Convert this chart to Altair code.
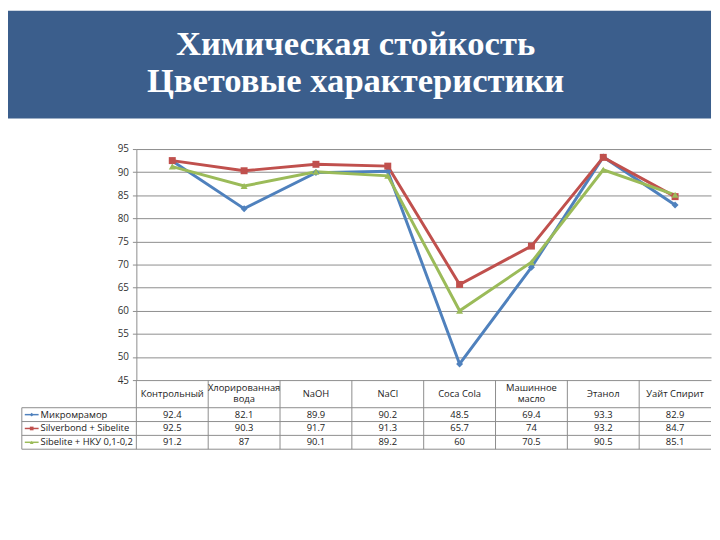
import altair as alt
import pandas as pd

title_lines = ["Химическая стойкость", "Цветовые характеристики"]
categories = ["Контрольный", "Хлорированная\nвода", "NaOH", "NaCl", "Coca Cola",
              "Машинное\nмасло", "Этанол", "Уайт Спирит"]
series = ["Микромрамор", "Silverbond + Sibelite", "Sibelite + НКУ 0,1-0,2"]
micro = [92.4, 82.1, 89.9, 90.2, 48.5, 69.4, 93.3, 82.9]
silver = [92.5, 90.3, 91.7, 91.3, 65.7, 74, 93.2, 84.7]
sibel = [91.2, 87, 90.1, 89.2, 60, 70.5, 90.5, 85.1]
y_ticks = [45, 50, 55, 60, 65, 70, 75, 80, 85, 90, 95]

colors = ["#4F81BD", "#C0504D", "#9BBB59"]
shapes = ["diamond", "square", "triangle-up"]
row_pos = [2.5, 3.5, 4.5]

recs = []
for s, vals, r in zip(series, [micro, silver, sibel], row_pos):
    for c, v in zip(categories, vals):
        recs.append(dict(series=s, cat=c, value=v, row=r, label=f"{v:g}"))
df = pd.DataFrame(recs)
n_lines = [c.count("\n") + 1 for c in categories]
hdr = pd.DataFrame({"cat": categories,
                    "row": [1 - 0.45 * (n - 1) for n in n_lines],
                    "y0": [0] * len(categories), "y1": [5] * len(categories)})
leg = pd.DataFrame({"series": series, "row": row_pos})
hlines = pd.DataFrame({"r": [2, 3, 4, 5]})
one = pd.DataFrame({"t": [title_lines[0]], "t2": [title_lines[1]], "a": [2], "b": [5]})

W, H = 582, 304
xscale = alt.Scale(type="band", domain=categories, paddingInner=0, paddingOuter=0)
yscale = alt.Scale(domain=[45, 95], range=[234, 0])
tscale = alt.Scale(domain=[0, 5], range=[234, 304])
color_enc = alt.Color("series:N", scale=alt.Scale(domain=series, range=colors), legend=None)
shape_enc = alt.Shape("series:N", scale=alt.Scale(domain=series, range=shapes), legend=None)
xc = alt.X("cat:N", scale=xscale, sort=categories, bandPosition=0.5, axis=None)
xb = alt.X("cat:N", scale=xscale, sort=categories, bandPosition=0, axis=None)
FONT = "Open Sans"
GRID = "#8c8c8c"
TXT = "#222222"
FS = 9.5

yaxis = alt.Axis(values=y_ticks, grid=True, gridColor=GRID, domainColor=GRID, tickColor=GRID,
                 tickSize=4, labelPadding=4, labelFontSize=10, labelColor="#333333",
                 labelFont=FONT, title=None)

lines = alt.Chart(df).mark_line(strokeWidth=3).encode(
    x=xc, y=alt.Y("value:Q", scale=yscale, axis=yaxis), color=color_enc)
points = alt.Chart(df).mark_point(filled=True, size=50, opacity=1).encode(
    x=xc, y=alt.Y("value:Q", scale=yscale, axis=yaxis), color=color_enc, shape=shape_enc)
plot = alt.layer(lines, points)

ty = lambda f: alt.Y(f, scale=tscale, axis=None)
header = alt.Chart(hdr).mark_text(lineBreak="\n", lineHeight=12, fontSize=FS, font=FONT, color=TXT).encode(
    x=xc, y=ty("row:Q"), text="cat:N")
values = alt.Chart(df).mark_text(fontSize=FS, font=FONT, color=TXT).encode(
    x=xc, y=ty("row:Q"), text="label:N")
vrules = alt.Chart(hdr).mark_rule(color=GRID).encode(x=xb, y=ty("y0:Q"), y2="y1:Q")
hrules = alt.Chart(hlines).mark_rule(color=GRID).encode(
    y=ty("r:Q"), x=alt.value(-116), x2=alt.value(W))
lborder = alt.Chart(one).mark_rule(color=GRID).encode(x=alt.value(-116), y=ty("a:Q"), y2="b:Q")
leg_text = alt.Chart(leg).mark_text(align="left", fontSize=FS, font=FONT, color=TXT).encode(
    x=alt.value(-97), y=ty("row:Q"), text="series:N")
leg_line = alt.Chart(leg).mark_rule(strokeWidth=1.5).encode(
    x=alt.value(-113), x2=alt.value(-99), y=ty("row:Q"), color=color_enc)
leg_pt = alt.Chart(leg).mark_point(filled=True, size=14, opacity=1).encode(
    x=alt.value(-106), y=ty("row:Q"), color=color_enc, shape=shape_enc)
table = alt.layer(vrules, hrules, lborder, header, values, leg_line, leg_pt, leg_text)

banner = alt.Chart(one).mark_rect(color="#3B5E8C").encode(
    x=alt.value(-130), x2=alt.value(W), y=alt.value(-140), y2=alt.value(-31))
t1 = alt.Chart(one).mark_text(font="Liberation Serif", fontSize=35, fontWeight="bold",
                              color="white", baseline="alphabetic").encode(
    x=alt.value(222), y=alt.value(-95), text="t:N")
t2 = alt.Chart(one).mark_text(font="Liberation Serif", fontSize=35, fontWeight="bold",
                              color="white", baseline="alphabetic").encode(
    x=alt.value(222), y=alt.value(-58), text="t2:N")

chart = alt.layer(banner, t1, t2, plot, table).resolve_scale(y="independent").properties(
    width=W, height=H, padding=0).configure_view(stroke=None)

chart.save("out.html", embed_options={"renderer": "svg", "actions": False})
